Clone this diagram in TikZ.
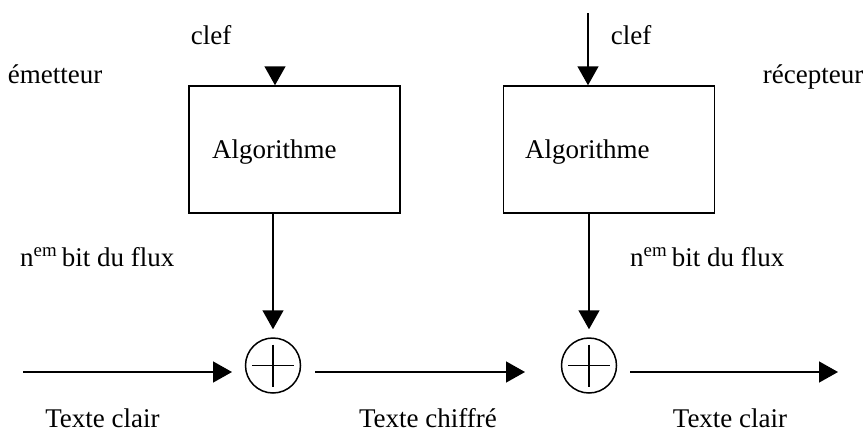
\documentclass[tikz,border=0pt]{standalone}
\usepackage{fontspec}
\setmainfont{Liberation Serif}
\usetikzlibrary{arrows.meta}
\begin{document}
\begin{tikzpicture}[x=1pt,y=-1pt,
  lbl/.style={inner sep=0pt,font=\fontsize{27}{32}\selectfont},
  algbox/.style={draw,line width=1.5pt,minimum width=211pt,minimum height=127pt,inner sep=0pt},
  xorc/.style={draw,circle,line width=1.5pt,minimum size=55pt,inner sep=0pt},
  arr/.style={line width=1.5pt,-{Triangle[length=19pt,width=21pt]}}]
\useasboundingbox (0,0) rectangle (864,434);
% boxes
\node[algbox] (box1) at (294.5,149.5) {};
\node[algbox] (box2) at (609,149.5) {};
\node[lbl,anchor=base west] (alg1) at (212,158) {Algorithme};
\node[lbl,anchor=base west] (alg2) at (525,158) {Algorithme};
% xor circles
\node[xorc] (x1) at (273,365.5) {};
\node[xorc] (x2) at (589,365.5) {};
\draw[line width=1.5pt] (x1.center) +(0,-21) -- +(0,21);
\draw[line width=1.5pt] (x1.center) +(-21,0) -- +(21,0);
\draw[line width=1.5pt] (x2.center) +(0,-21) -- +(0,21);
\draw[line width=1.5pt] (x2.center) +(-21,0) -- +(21,0);
% key arrows
\coordinate (k1) at (275,67);
\coordinate (k2) at (588,13);
\draw[arr] (k1) -- (k1 |- box1.north);
\draw[arr] (k2) -- (k2 |- box2.north);
% box to xor
\draw[arr,shorten >=8pt] (box1.south -| x1.north) -- (x1.north);
\draw[arr,shorten >=8pt] (box2.south -| x2.north) -- (x2.north);
% data arrows
\coordinate (a1) at (23,372);
\coordinate (b1) at (232,372);
\coordinate (a2) at (315,372);
\coordinate (b2) at (525,372);
\coordinate (a3) at (630,372);
\coordinate (b3) at (838,372);
\draw[arr] (a1) -- (b1);
\draw[arr] (a2) -- (b2);
\draw[arr] (a3) -- (b3);
% labels
\node[lbl,anchor=base] (clef1) at (211,44) {clef};
\node[lbl,anchor=base] (clef2) at (631,44) {clef};
\node[lbl,anchor=base] (em) at (55,83) {émetteur};
\node[lbl,anchor=base] (rec) at (813,83) {récepteur};
\node[lbl,anchor=base west] (n1) at (20,266) {n\textsuperscript{em}\,bit du flux};
\node[lbl,anchor=base west] (n2) at (630,266) {n\textsuperscript{em}\,bit du flux};
\node[lbl,anchor=base] (t1) at (102.5,427) {Texte clair};
\node[lbl,anchor=base] (t2) at (428,427) {Texte chiffré};
\node[lbl,anchor=base] (t3) at (730,427) {Texte clair};
\end{tikzpicture}
\end{document}
